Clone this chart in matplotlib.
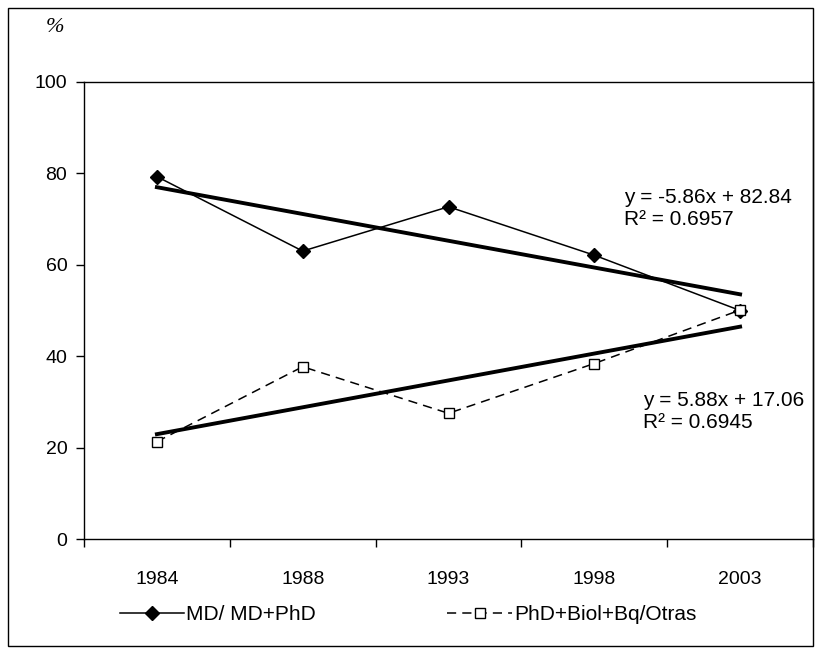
import matplotlib.pyplot as plt
import matplotlib.patches as patches
import numpy as np

# values
years = ["1984", "1988", "1993", "1998", "2003"]
md = [79.3, 63.0, 72.7, 62.1, 50.0]
phd = [21.3, 37.7, 27.5, 38.4, 50.1]

# linear trend coefficients as printed on the chart
md_fit = (-5.86, 82.84)
phd_fit = (5.88, 17.06)
md_label = "y = -5.86x + 82.84\nR² = 0.6957"
phd_label = "y = 5.88x + 17.06\nR² = 0.6945"

plt.rcParams['font.family'] = ['Liberation Sans', 'DejaVu Sans']

W, H = 827, 652
fig = plt.figure(figsize=(W / 100, H / 100), dpi=100)
ax = fig.add_axes([84 / W, 1 - 539 / H, (813 - 84) / W, (539 - 82) / H])

x = np.arange(1, len(years) + 1)

# data series
ax.plot(x, md, color='black', lw=1.1, marker='D', ms=7,
        mfc='black', mec='black', label='MD/ MD+PhD', zorder=3)
ax.plot(x, phd, color='black', lw=1.1, ls=(0, (6, 4)), marker='s', ms=7.5,
        mfc='white', mec='black', mew=1.0, label='PhD+Biol+Bq/Otras', zorder=3)

# trend lines
xs = np.array([x[0], x[-1]])
ax.plot(xs, md_fit[0] * xs + md_fit[1], color='black', lw=2.8, zorder=2)
ax.plot(xs, phd_fit[0] * xs + phd_fit[1], color='black', lw=2.8, zorder=2)

# equations
ax.text((624 - 84) / 729, 72.4, md_label, transform=ax.get_yaxis_transform(),
        ha='left', va='center', fontsize=15, linespacing=1.2)
ax.text((643 - 84) / 729, 27.9, phd_label, transform=ax.get_yaxis_transform(),
        ha='left', va='center', fontsize=15, linespacing=1.2)

# axes formatting
ax.set_xlim(0.5, len(years) + 0.5)
ax.set_ylim(0, 100)
ax.set_yticks([0, 20, 40, 60, 80, 100])
ax.set_xticks(x)
ax.set_xticklabels(years)
ax.set_xticks(np.arange(0.5, len(years) + 1, 1), minor=True)
ax.tick_params(axis='x', which='major', length=0, pad=23, labelsize=14)
ax.tick_params(axis='x', which='minor', length=6, width=1, direction='out')
ax.tick_params(axis='y', length=6, width=1, direction='out', pad=6, labelsize=14)
for s in ax.spines.values():
    s.set_linewidth(1.0)

# percent sign above the y axis
fig.text(55 / W, 1 - 28 / H, "%", fontsize=16, family='Liberation Serif',
         style='italic', ha='center', va='center')

# legend at the bottom
fig.legend(loc='center', bbox_to_anchor=(408 / W, 1 - 615 / H), ncol=2,
           frameon=False, fontsize=15, handlelength=3.1, columnspacing=6.3,
           handletextpad=0.1)

# outer chart frame
fig.patches.append(patches.Rectangle((8 / W, 1 - 646 / H), (813 - 8) / W,
                                     (646 - 8) / H, transform=fig.transFigure,
                                     fill=False, edgecolor='black', lw=1.0))

fig.savefig("out.png", dpi=100)
